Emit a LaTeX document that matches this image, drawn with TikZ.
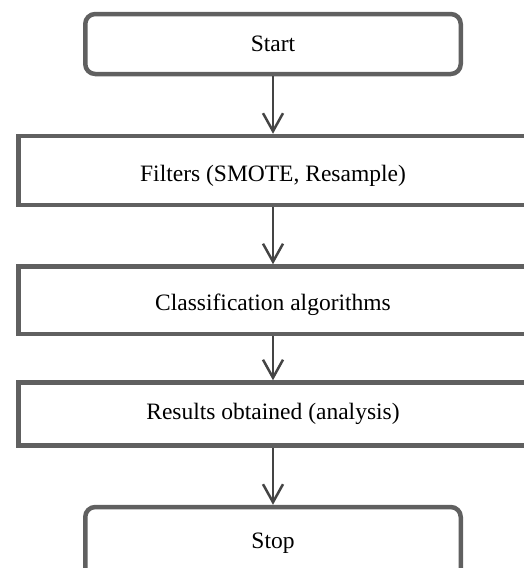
\documentclass[tikz,border=0pt]{standalone}
\usepackage{fontspec}
\setmainfont{Liberation Serif}
\usetikzlibrary{arrows.meta}
\definecolor{boxgray}{RGB}{96,96,96}
\definecolor{arrowgray}{RGB}{68,68,68}
\begin{document}
\begin{tikzpicture}[x=1pt,y=-1pt,
  box/.style={draw=boxgray, line width=4.5pt, fill=white, inner sep=0pt,
    font=\fontsize{23.5}{28}\selectfont, text=black},
  term/.style={box, rounded corners=10pt},
  lower/.style={text height=26pt, text depth=5pt},
  flow/.style={draw=arrowgray, line width=2.5pt,
    -{Straight Barb[length=18pt,width=20pt,line width=2.5pt]}}]
\path[use as bounding box] (0,0) rectangle (524,568);
\clip (0,0) rectangle (524,568);
\node[term, minimum width=375.5pt, minimum height=60pt] (start) at (273,44) {Start};
\node[box, lower, minimum width=509pt, minimum height=69pt] (filt) at (273,170.5) {Filters (SMOTE, Resample)};
\node[box, lower, minimum width=509pt, minimum height=67.5pt] (clas) at (273,300.25) {Classification algorithms};
\node[box, minimum width=509pt, minimum height=63pt] (res) at (273,414) {Results obtained (analysis)};
\node[term, minimum width=375.5pt, minimum height=73pt] (stop) at (273,543.5) {Stop};
\draw[flow] (start.south) -- (filt.north);
\draw[flow] (filt.south) -- (clas.north);
\draw[flow] (clas.south) -- (res.north);
\draw[flow] (res.south) -- (stop.north);
\end{tikzpicture}
\end{document}
